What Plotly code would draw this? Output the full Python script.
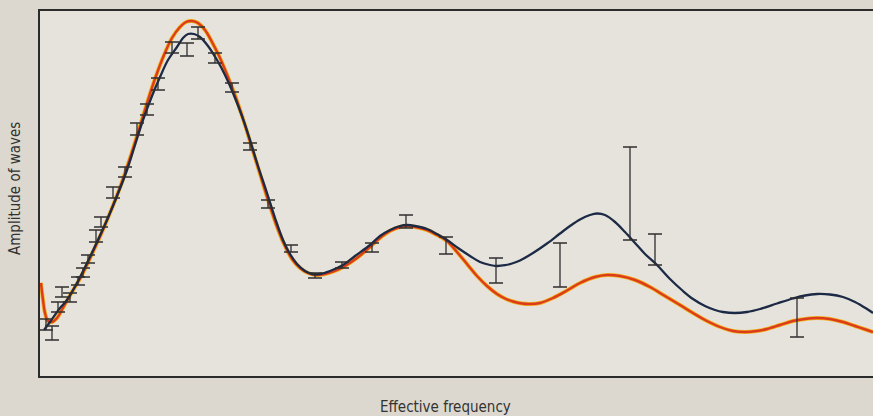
import plotly.graph_objects as go

# ---- data (arbitrary units) ----
navy_freq = [4, 10, 20, 27, 37, 47, 57, 67, 77, 87, 95, 103, 112, 120, 128, 137, 143, 148, 154, 160,
             168, 177, 185, 193, 202, 210, 218, 227, 235, 243, 250, 257, 265, 272, 280, 290, 303, 315,
             330, 340, 350, 360, 367, 375, 387, 397, 407, 418, 430, 440, 450, 457, 465, 472, 480, 493,
             507, 520, 530, 540, 550, 557, 565, 575, 585, 595, 605, 617, 630, 643, 653, 665, 675, 683,
             695, 707, 720, 737, 753, 765, 777, 790, 803, 815, 827, 833]
navy_amp = [46, 54, 68, 76, 93, 113, 134, 156, 180, 206, 231, 256, 280, 299, 316, 329, 338, 342, 342, 339,
            330, 316, 301, 283, 260, 236, 210, 183, 158, 136, 122, 112, 105, 102, 102, 105, 111, 120,
            131, 140, 146, 150, 151, 150, 147, 142, 136, 128, 120, 114, 111, 110, 110.8, 112.5, 115.5, 123,
            132.5, 142.5, 150, 156.5, 161, 162.5, 161, 154, 144, 133, 122, 111, 97, 85, 77, 70, 66, 64,
            63, 64, 67, 72.5, 77.5, 80.5, 82, 81.5, 79, 74, 67, 63]

orange_freq = [1, 3, 5, 8, 12, 17, 24, 32, 42, 52, 62, 72, 82, 91, 100, 108, 116, 124, 132, 140, 146,
               152, 158, 165, 172, 180, 188, 196, 204, 212, 220, 228, 236, 244, 252, 260, 268, 276, 285,
               295, 305, 317, 330, 340, 350, 360, 367, 375, 387, 397, 407, 417, 427, 437, 447, 457, 465,
               473, 482, 490, 500, 513, 527, 540, 555, 567, 580, 595, 610, 625, 640, 653, 665, 680, 693,
               705, 717, 727, 740, 753, 765, 777, 790, 803, 815, 827, 833]
orange_amp = [93, 76, 63, 55, 54, 58, 70, 84, 101, 122, 144, 168, 194, 221, 250, 276, 300, 321, 338, 349, 354,
              355, 353, 346, 334, 318, 299, 278, 254, 228, 202, 176, 152, 132, 117, 108, 103, 101, 102,
              105, 110, 118, 129, 138, 145, 149, 150, 149, 146, 141, 135, 124, 112, 100, 90, 82, 77.5,
              74.5, 72.5, 72, 73, 78, 85.5, 93, 99, 101, 100, 96, 89, 80, 71, 63, 56, 49, 45,
              44, 45, 47, 51, 55, 57, 58, 57, 54, 50, 46, 44]

obs_freq = [6, 12, 18, 22, 30, 38, 43, 48, 56, 61, 73, 85, 97, 107, 118, 132, 147, 158, 175, 192,
            210, 228, 251, 275, 302, 332, 366, 406, 456, 520, 590, 615, 757]
obs_amp = [51.5, 43, 69, 84, 78.5, 95, 103.5, 117, 140, 154, 183.5, 204, 247, 266.5, 292, 328.5, 326.5,
           343, 318, 288.5, 229.5, 172, 127.5, 100.5, 111, 128.5, 154.5, 130.5, 105.5, 111, 182.5,
           126.5, 58.5]
obs_err = [5.5, 7, 5, 5, 4.5, 4, 4.5, 4, 6, 5, 5.5, 5, 6, 5.5, 6, 5.5, 6.5, 6, 5, 4.5, 3.5, 4, 3.5,
           2.5, 3, 4.5, 6.5, 8.5, 12.5, 22, 46.5, 15.5, 19.5]

x_title = "Effective frequency"
y_title = "Amplitude of waves"

fig = go.Figure()

# orange model: yellow underlay + red-orange line
fig.add_trace(go.Scatter(x=orange_freq, y=orange_amp, mode="lines",
                         line=dict(color="#f0b41e", width=4.0, shape="spline", smoothing=1.0),
                         hoverinfo="skip", showlegend=False))
fig.add_trace(go.Scatter(x=orange_freq, y=orange_amp, mode="lines",
                         line=dict(color="#dc3c1c", width=2.4, shape="spline", smoothing=1.0),
                         showlegend=False))
# navy model
fig.add_trace(go.Scatter(x=navy_freq, y=navy_amp, mode="lines",
                         line=dict(color="#1c2a45", width=2.3, shape="spline", smoothing=1.0),
                         showlegend=False))
# observations with error bars
fig.add_trace(go.Scatter(x=obs_freq, y=obs_amp, mode="markers",
                         marker=dict(size=1, color="rgba(0,0,0,0)"),
                         error_y=dict(type="data", array=obs_err, visible=True,
                                      color="#2f2f2f", thickness=1.3, width=7),
                         showlegend=False))

font_family = "Liberation Sans Narrow, DejaVu Sans Condensed, Arial Narrow, sans-serif"

fig.update_layout(
    width=873, height=416,
    margin=dict(l=40, r=0, t=11, b=40),
    paper_bgcolor="#dcd8cf",
    plot_bgcolor="#e6e3dc",
    xaxis=dict(range=[0, 833], showgrid=False, zeroline=False, showticklabels=False, ticks="",
               showline=True, linecolor="#2b2b2b", linewidth=1.6, mirror=True),
    yaxis=dict(range=[0, 365], showgrid=False, zeroline=False, showticklabels=False, ticks="",
               showline=True, linecolor="#2b2b2b", linewidth=1.6),
    annotations=[
        dict(text=x_title, xref="paper", yref="paper", x=(445 - 40) / 833, y=-0.084,
             xanchor="center", yanchor="middle", showarrow=False,
             font=dict(family=font_family, size=15, color="#333333")),
        dict(text=y_title, xref="paper", yref="paper", x=-0.030, y=(376 - 189) / 365,
             xanchor="center", yanchor="middle", showarrow=False, textangle=-90,
             font=dict(family=font_family, size=15, color="#333333")),
    ],
)

fig.write_html("out.html", config={"displayModeBar": False},
               post_script="document.body.style.margin='0';document.body.style.background='#dcd8cf';")
